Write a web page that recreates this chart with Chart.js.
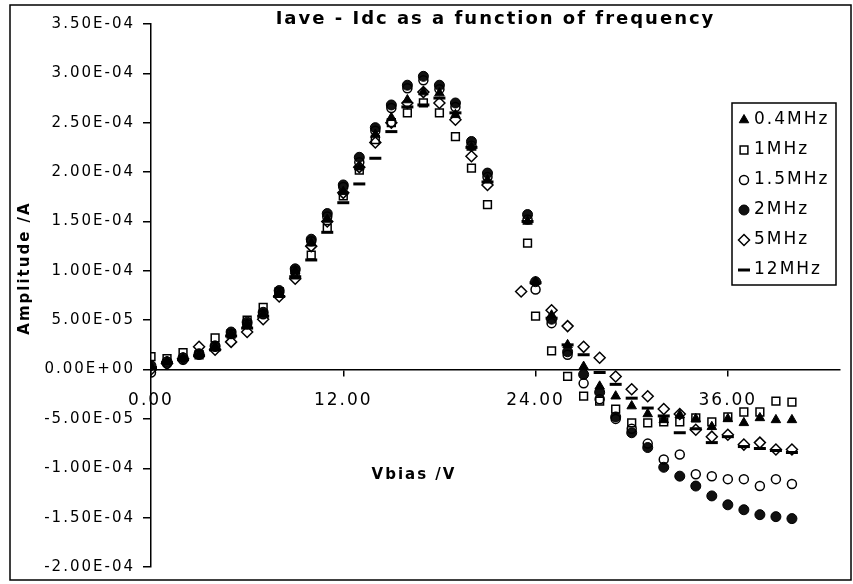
<!DOCTYPE html>
<html>
<head>
<meta charset="utf-8">
<script src="https://cdn.jsdelivr.net/npm/chart.js@4.4.1/dist/chart.umd.min.js"></script>
<style>
  html, body { margin: 0; padding: 0; background: #fff; }
  #wrap { width: 853px; height: 584px; }
</style>
</head>
<body>
<div id="wrap"><canvas id="chart" width="853" height="584"></canvas></div>
<script>
// bias voltage of each measurement (V)
const vbias = [0, 1, 2, 3, 4, 5, 6, 7, 8, 9, 10, 11, 12, 13, 14, 15, 16, 17, 18, 19, 20, 21,
  23.1, 23.5, 24, 25, 26, 27, 28, 29, 30, 31, 32, 33, 34, 35, 36, 37, 38, 39, 40];

// Iave - Idc (A) per frequency
const f04 = [0.3e-5, 0.8e-5, 1.1e-5, 1.5e-5, 2.3e-5, 3.6e-5, 4.6e-5, 5.6e-5, 7.8e-5, 10.0e-5, 12.8e-5, 15.2e-5,
  18.0e-5, 20.5e-5, 23.8e-5, 25.5e-5, 27.3e-5, 28.1e-5, 28.0e-5, 25.8e-5, 22.5e-5, 19.2e-5,
  null, 15.0e-5, 8.9e-5, 5.5e-5, 2.5e-5, 0.3e-5, -1.7e-5, -2.7e-5, -3.7e-5, -4.5e-5, -5.1e-5, -4.6e-5,
  -5.0e-5, -5.8e-5, -5.0e-5, -5.4e-5, -4.9e-5, -5.1e-5, -5.1e-5];
const f1 = [1.3e-5, 1.1e-5, 1.7e-5, 1.5e-5, 3.2e-5, 3.6e-5, 5.0e-5, 6.3e-5, 7.9e-5, 9.6e-5, 11.6e-5, 14.3e-5,
  17.6e-5, 20.2e-5, 23.3e-5, 25.0e-5, 26.0e-5, 27.0e-5, 26.0e-5, 23.6e-5, 20.4e-5, 16.7e-5,
  null, 12.8e-5, 5.4e-5, 1.9e-5, -0.7e-5, -2.7e-5, -3.2e-5, -4.0e-5, -5.4e-5, -5.4e-5, -5.3e-5, -5.3e-5,
  -4.9e-5, -5.3e-5, -4.8e-5, -4.3e-5, -4.3e-5, -3.2e-5, -3.3e-5];
const f15 = [-0.3e-5, 0.6e-5, 1.0e-5, 1.5e-5, 2.3e-5, 3.6e-5, 4.6e-5, 5.6e-5, 7.8e-5, 10.0e-5, 13.0e-5, 15.5e-5,
  18.5e-5, 21.0e-5, 24.2e-5, 26.5e-5, 28.5e-5, 29.3e-5, 28.4e-5, 26.6e-5, 22.7e-5, 19.5e-5,
  null, 15.2e-5, 8.1e-5, 4.7e-5, 1.5e-5, -1.4e-5, -3.0e-5, -5.0e-5, -6.0e-5, -7.5e-5, -9.1e-5, -8.6e-5,
  -10.6e-5, -10.8e-5, -11.1e-5, -11.1e-5, -11.8e-5, -11.1e-5, -11.6e-5];
const f2 = [0.4e-5, 0.8e-5, 1.2e-5, 1.6e-5, 2.4e-5, 3.8e-5, 4.8e-5, 5.8e-5, 8.0e-5, 10.2e-5, 13.2e-5, 15.8e-5,
  18.7e-5, 21.5e-5, 24.5e-5, 26.8e-5, 28.8e-5, 29.7e-5, 28.8e-5, 27.0e-5, 23.1e-5, 19.9e-5,
  null, 15.7e-5, 8.9e-5, 5.1e-5, 1.8e-5, -0.5e-5, -2.3e-5, -4.8e-5, -6.4e-5, -7.9e-5, -9.9e-5, -10.8e-5,
  -11.8e-5, -12.8e-5, -13.7e-5, -14.2e-5, -14.7e-5, -14.9e-5, -15.1e-5];
const f5 = [0.0e-5, 0.6e-5, 1.1e-5, 2.3e-5, 2.0e-5, 2.8e-5, 3.8e-5, 5.1e-5, 7.4e-5, 9.2e-5, 12.5e-5, 15.0e-5,
  17.9e-5, 20.5e-5, 23.0e-5, 25.0e-5, 27.0e-5, 28.1e-5, 27.0e-5, 25.3e-5, 21.6e-5, 18.7e-5,
  7.9e-5, null, null, 6.0e-5, 4.4e-5, 2.3e-5, 1.2e-5, -0.7e-5, -2.0e-5, -2.7e-5, -4.0e-5, -4.5e-5,
  -6.1e-5, -6.8e-5, -6.6e-5, -7.6e-5, -7.4e-5, -8.1e-5, -8.1e-5];
const f12 = [0.2e-5, 0.7e-5, 1.0e-5, 1.4e-5, 2.0e-5, 3.4e-5, 4.2e-5, 5.4e-5, 7.4e-5, 9.4e-5, 11.1e-5, 13.9e-5,
  16.9e-5, 18.8e-5, 21.4e-5, 24.1e-5, 26.6e-5, 26.8e-5, 27.5e-5, 26.0e-5, 22.5e-5, 19.0e-5,
  null, 15.0e-5, 8.8e-5, 5.2e-5, 2.5e-5, 1.5e-5, -0.3e-5, -1.5e-5, -2.9e-5, -3.9e-5, -4.7e-5, -6.4e-5,
  -6.0e-5, -7.4e-5, -6.8e-5, -7.8e-5, -8.0e-5, -8.2e-5, -8.4e-5];

const seriesNames = ['0.4MHz', '1MHz', '1.5MHz', '2MHz', '5MHz', '12MHz'];
const xTicks = [0, 12, 24, 36];
const xMax = 43;
const yMin = -2.0e-4, yMax = 3.5e-4, yStep = 5.0e-5;

Chart.defaults.font.family = "'DejaVu Sans', sans-serif";
Chart.defaults.font.size = 15;
Chart.defaults.color = '#000';

function sciLabel(v) {
  if (Math.abs(v) < 1e-12) v = 0;
  const [m, e] = v.toExponential(2).split('e');
  const n = parseInt(e, 10);
  return m + 'E' + (n < 0 ? '-' : '+') + String(Math.abs(n)).padStart(2, '0');
}

function series(label, ys, style) {
  return Object.assign({
    label: label,
    data: vbias.map((v, i) => ({ x: v, y: ys[i] })),
    showLine: false,
    pointBorderColor: '#000',
    pointHoverRadius: 0
  }, style);
}

const datasets = [
  series(seriesNames[0], f04, { pointStyle: 'triangle', pointRadius: 5.5, pointBackgroundColor: '#000', pointBorderWidth: 1 }),
  series(seriesNames[1], f1, { pointStyle: 'rect', pointRadius: 5.5, pointBackgroundColor: 'rgba(0,0,0,0)', pointBorderWidth: 1.5 }),
  series(seriesNames[2], f15, { pointStyle: 'circle', pointRadius: 4.5, pointBackgroundColor: 'rgba(0,0,0,0)', pointBorderWidth: 1.5 }),
  series(seriesNames[3], f2, { pointStyle: 'circle', pointRadius: 5, pointBackgroundColor: '#111', pointBorderWidth: 1 }),
  series(seriesNames[4], f5, { pointStyle: 'rectRot', pointRadius: 5.5, pointBackgroundColor: 'rgba(0,0,0,0)', pointBorderWidth: 1.5 }),
  series(seriesNames[5], f12, { pointStyle: 'line', pointRadius: 6, pointBackgroundColor: '#000', pointBorderWidth: 3 })
];

// white page, frame, axis titles and the boxed legend
const sheet = {
  id: 'sheet',
  beforeLayout(chart) { chart.ctx.letterSpacing = '2px'; },
  beforeDraw(chart) {
    const ctx = chart.ctx;
    ctx.letterSpacing = '2px';
    ctx.save();
    ctx.fillStyle = '#fff';
    ctx.fillRect(0, 0, chart.width, chart.height);
    ctx.restore();
  },
  afterDraw(chart) {
    const ctx = chart.ctx;
    ctx.save();
    ctx.strokeStyle = '#000';
    ctx.lineWidth = 1.5;
    ctx.strokeRect(10, 5, 841, 575);

    ctx.fillStyle = '#000';
    ctx.font = "bold 15px 'DejaVu Sans'";
    ctx.textAlign = 'center';
    ctx.textBaseline = 'middle';
    ctx.fillText('Vbias /V', 414, 475);
    ctx.save();
    ctx.translate(25, 268);
    ctx.rotate(-Math.PI / 2);
    ctx.fillText('Amplitude /A', 0, 0);
    ctx.restore();

    // legend
    const lx = 732, ly = 103, lw = 104, lh = 182;
    ctx.fillStyle = '#fff';
    ctx.fillRect(lx, ly, lw, lh);
    ctx.strokeRect(lx, ly, lw, lh);
    ctx.font = "17px 'DejaVu Sans'";
    ctx.textAlign = 'left';
    chart.data.datasets.forEach((ds, i) => {
      const y = ly + 17 + i * 30;
      ctx.fillStyle = ds.pointBackgroundColor;
      ctx.strokeStyle = '#000';
      ctx.lineWidth = ds.pointBorderWidth;
      Chart.helpers.drawPoint(ctx, { pointStyle: ds.pointStyle, rotation: 0, radius: ds.pointRadius, borderWidth: ds.pointBorderWidth }, lx + 12, y);
      ctx.fillStyle = '#000';
      ctx.fillText(ds.label, lx + 22, y);
    });
    ctx.restore();
  }
};

new Chart(document.getElementById('chart'), {
  type: 'scatter',
  data: { datasets: datasets },
  options: {
    responsive: false,
    animation: false,
    events: [],
    layout: { padding: { left: 10, right: 13, top: 0, bottom: 17 } },
    plugins: {
      legend: { display: false },
      tooltip: { enabled: false },
      title: {
        display: true,
        text: 'Iave - Idc as a function of frequency',
        fullSize: false,
        font: { size: 18, weight: 'bold' },
        padding: { top: 9, bottom: -6.6 }
      }
    },
    scales: {
      x: {
        type: 'linear',
        position: { y: 0 },
        min: 0,
        max: xMax,
        afterBuildTicks: (scale) => { scale.ticks = xTicks.map(v => ({ value: v })); },
        ticks: { stepSize: 12, font: { size: 17 }, padding: 15, callback: (v) => Number(v).toFixed(2) },
        grid: { drawOnChartArea: false, drawTicks: true, tickLength: 6, color: '#000', lineWidth: 1.5 },
        border: { display: true, color: '#000', width: 1.5 }
      },
      y: {
        position: 'left',
        min: yMin,
        max: yMax,
        afterFit: (scale) => { scale.width = 141; },
        ticks: { stepSize: yStep, padding: 8, callback: (v) => sciLabel(v) },
        grid: { drawOnChartArea: false, drawTicks: true, tickLength: 8, color: '#000', lineWidth: 1.5 },
        border: { display: true, color: '#000', width: 1.5 }
      }
    }
  },
  plugins: [sheet]
});
</script>
</body>
</html>
